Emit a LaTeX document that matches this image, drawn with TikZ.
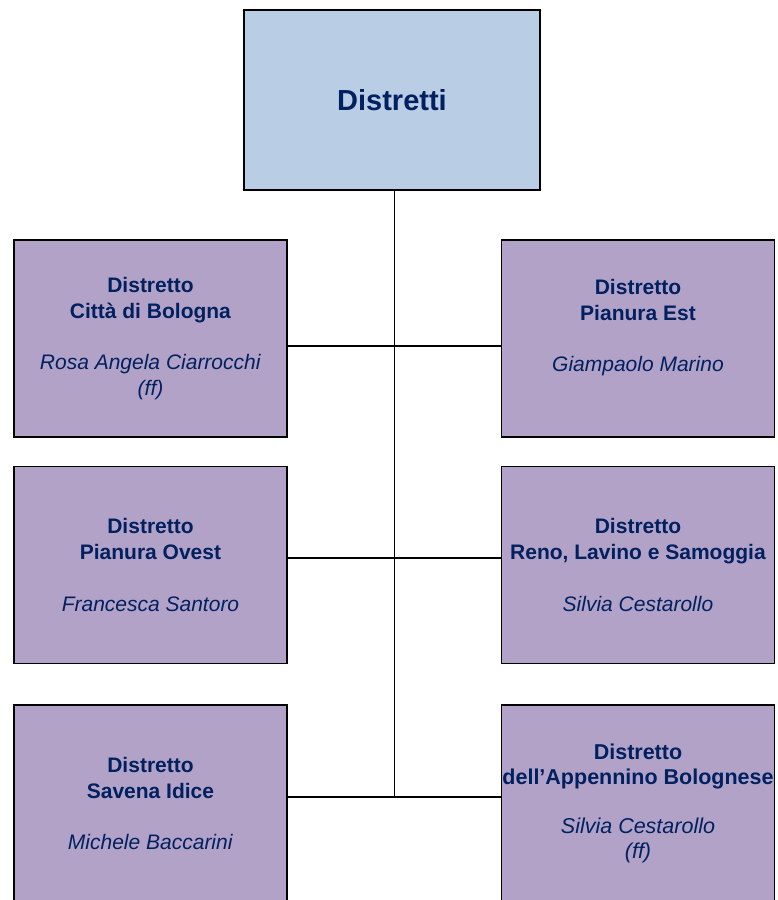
\documentclass[tikz,border=0pt]{standalone}
\usepackage{fontspec}
\setmainfont{Liberation Sans}
\usetikzlibrary{positioning}

\definecolor{navy}{HTML}{002060}
\definecolor{boxblue}{HTML}{B9CDE5}
\definecolor{boxlilac}{HTML}{B3A2C7}

\tikzset{
  topbox/.style={draw=black, line width=1.6pt, fill=boxblue, minimum width=296pt, minimum height=180pt,
    inner sep=0pt, text=navy, font=\fontsize{29}{34}\selectfont\bfseries},
  distbox/.style={draw=black, line width=1.6pt, fill=boxlilac, minimum width=273pt, minimum height=197pt,
    inner sep=0pt, align=center, text=navy, font=\fontsize{21}{25.8}\selectfont},
  link/.style={line width=1.3pt},
  trunk/.style={line width=0.9pt}
}
\newcommand{\dname}[1]{\textbf{#1}}
\newcommand{\capo}[1]{\textit{#1}}

\begin{document}
\begin{tikzpicture}[x=1pt, y=-1pt]
  \useasboundingbox (0,0) rectangle (777,900);
  \clip (0,0) rectangle (777,900);

  %%%%% top %%%%%
  \node[topbox] (top) at (392,100) {\raisebox{-3pt}{Distretti}};

  %%%%% districts %%%%%
  \node[distbox] (l1) at (150.5,338.5) {\dname{Distretto}\\\dname{Città di Bologna}\\\mbox{}\\\capo{Rosa Angela Ciarrocchi}\\\capo{(ff)}};
  \node[distbox] (r1) at (638,338.5) {\dname{Distretto}\\\dname{Pianura Est}\\\mbox{}\\\capo{Giampaolo Marino}\\\mbox{}};

  \node[distbox] (l2) at (150.5,565) {\dname{Distretto}\\\dname{Pianura Ovest}\\\mbox{}\\\capo{Francesca Santoro}};
  \node[distbox] (r2) at (638,565) {\dname{Distretto}\\\dname{Reno, Lavino e Samoggia}\\\mbox{}\\\capo{Silvia Cestarollo}};

  \node[distbox] (l3) at (150.5,803.5) {\dname{Distretto}\\\dname{Savena Idice}\\\mbox{}\\\capo{Michele Baccarini}};
  \node[distbox, font=\fontsize{21.5}{24.8}\selectfont] (r3) at (638,803.5) {\dname{Distretto}\\\dname{dell’Appennino Bolognese}\\\mbox{}\\\capo{Silvia Cestarollo}\\\capo{(ff)}};

  %%%%% connectors %%%%%
  \coordinate (j1) at (394,346);
  \coordinate (j2) at (394,558);
  \coordinate (j3) at (394,797);

  \draw[trunk] (top.south -| j3) -- (j3);
  \draw[link] (j1 -| l1.east) -- (j1 -| r1.west);
  \draw[link] (j2 -| l2.east) -- (j2 -| r2.west);
  \draw[link] (j3 -| l3.east) -- (j3 -| r3.west);
\end{tikzpicture}
\end{document}
